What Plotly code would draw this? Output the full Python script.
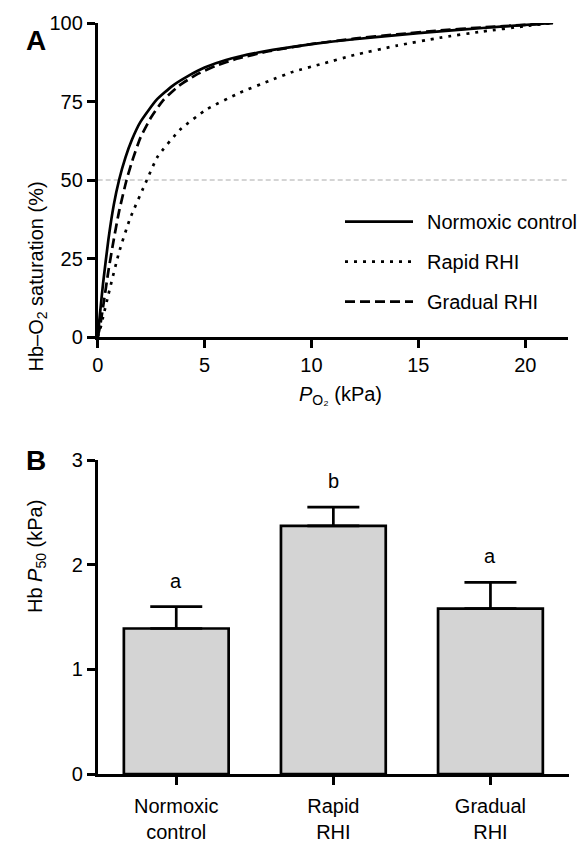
import plotly.graph_objects as go

# ---------------- Panel A data ----------------
po2_norm = [0, 0.1, 0.25, 0.5, 0.75, 1.0, 1.3, 1.6, 2.0, 2.75, 3.5, 4.2, 5.0, 6.0, 7.5, 9.2, 11.0, 13.0, 15.0, 17.0, 19.0, 21.3]
sat_norm = [0, 7, 17, 31, 42, 50, 57.2, 62.8, 68.5, 75.5, 80, 83, 85.8, 88.2, 90.6, 92.5, 94.1, 95.5, 96.8, 97.9, 98.9, 100]

po2_rapid = [0, 0.1, 0.25, 0.5, 1.0, 1.5, 2.3, 2.8, 3.85, 5.1, 6.65, 8.0, 9.15, 10.5, 12.0, 14.0, 16.0, 18.0, 20.0, 21.3]
sat_rapid = [0, 2, 6.3, 13.5, 27, 37.5, 50, 57.4, 66, 72.5, 77.8, 81.5, 84.5, 87, 89.8, 92.8, 95.3, 97.3, 99, 100]

po2_grad = [0, 0.1, 0.25, 0.5, 0.75, 1.0, 1.35, 1.65, 2.0, 2.5, 3.05, 3.8, 4.6, 5.5, 6.5, 8.0, 10.0, 12.0, 14.0, 16.0, 18.0, 20.0, 21.3]
sat_grad = [0, 3, 9.5, 21, 31, 40, 50, 56.8, 63.5, 70, 75.3, 80, 83.5, 86.3, 88.6, 91, 93.3, 95, 96.4, 97.6, 98.6, 99.4, 100]

series_names = ["Normoxic control", "Rapid RHI", "Gradual RHI"]
x_ticks_a = [0, 5, 10, 15, 20]
y_ticks_a = [0, 25, 50, 75, 100]

# ---------------- Panel B data ----------------
groups = ["Normoxic<br>control", "Rapid<br>RHI", "Gradual<br>RHI"]
p50_mean = [1.39, 2.37, 1.58]
p50_sem = [0.21, 0.18, 0.25]
sig_letters = ["a", "b", "a"]
y_ticks_b = [0, 1, 2, 3]

FONT = "Liberation Sans, Arial, sans-serif"
W, H = 584, 842
LW = 2.7

dashes = ["solid", "3px,6px", "10px,5px"]

fig = go.Figure()

for xs, ys, name, d in [(po2_norm, sat_norm, series_names[0], dashes[0]),
                        (po2_rapid, sat_rapid, series_names[1], dashes[1]),
                        (po2_grad, sat_grad, series_names[2], dashes[2])]:
    fig.add_trace(go.Scatter(x=xs, y=ys, mode="lines", name=name,
                             line=dict(color="black", width=LW, dash=d, shape="spline", smoothing=0.5),
                             xaxis="x", yaxis="y", showlegend=False))

fig.add_trace(go.Bar(x=list(range(len(groups))), y=p50_mean, width=0.667,
                     marker=dict(color="#d4d4d4", line=dict(color="black", width=LW)),
                     error_y=dict(type="data", symmetric=False, array=p50_sem,
                                  arrayminus=[0] * len(p50_sem), color="black",
                                  thickness=LW, width=26),
                     xaxis="x2", yaxis="y2", showlegend=False))

axis_common = dict(showline=True, linecolor="black", linewidth=LW, ticks="outside",
                   ticklen=8, tickwidth=LW, tickcolor="black", showgrid=False,
                   zeroline=False, automargin=False,
                   tickfont=dict(family=FONT, size=20, color="black"))

fig.update_layout(
    template="none",
    width=W, height=H, margin=dict(l=0, r=0, t=0, b=0, pad=0),
    paper_bgcolor="white", plot_bgcolor="white",
    font=dict(family=FONT, size=20, color="black"),
    xaxis=dict(domain=[97.7 / W, 568 / W], range=[0, 22], tickvals=x_ticks_a,
               anchor="y", **axis_common),
    yaxis=dict(domain=[(H - 337) / H, (H - 23) / H], range=[0, 100], tickvals=y_ticks_a,
               anchor="x", **axis_common),
    xaxis2=dict(domain=[97.7 / W, 569 / W], range=[-0.5, 2.5], tickvals=list(range(len(groups))),
                ticktext=groups, anchor="y2", ticklabelstandoff=4, **axis_common),
    yaxis2=dict(domain=[(H - 774) / H, (H - 460) / H], range=[0, 3], tickvals=y_ticks_b,
                anchor="x2", **axis_common),
)

# 50% reference line
fig.add_hline(y=50, line=dict(color="#aaaaaa", width=1, dash="5px,3px"), xref="x", yref="y", layer="below")

ann = []
# Significance letters
for i, (m, s, t) in enumerate(zip(p50_mean, p50_sem, sig_letters)):
    ann.append(dict(x=i, y=m + s, xref="x2", yref="y2", text=t, showarrow=False,
                    yshift=26, font=dict(family=FONT, size=20, color="black")))

# Axis titles
ann.append(dict(x=22 / W, y=(H - 180) / H, xref="paper", yref="paper", textangle=-90,
                text="Hb–O<sub>2</sub> saturation (%)", showarrow=False,
                font=dict(family=FONT, size=20, color="black")))
ann.append(dict(x=22 / W, y=(H - 615) / H, xref="paper", yref="paper", textangle=-90,
                text="Hb <i>P</i><sub>50</sub> (kPa)", showarrow=False,
                font=dict(family=FONT, size=20, color="black")))
ann.append(dict(x=340 / W, y=(H - 395) / H, xref="paper", yref="paper",
                text="<i>P</i><sub>O₂</sub> (kPa)", showarrow=False,
                font=dict(family=FONT, size=20, color="black")))

# Panel letters
ann.append(dict(x=24 / W, y=(H - 23) / H, xref="paper", yref="paper", text="<b>A</b>",
                showarrow=False, font=dict(family=FONT, size=28, color="black")))
ann.append(dict(x=24 / W, y=(H - 460) / H, xref="paper", yref="paper", text="<b>B</b>",
                showarrow=False, font=dict(family=FONT, size=28, color="black")))

# Legend (manual)
legend_rows = [221.7, 261.7, 301.7]
shapes = []
for name, d, yy in zip(series_names, dashes, legend_rows):
    shapes.append(dict(type="line", xref="paper", yref="paper", x0=345 / W, x1=413 / W,
                       y0=(H - yy) / H, y1=(H - yy) / H,
                       line=dict(color="black", width=LW, dash=d)))
    ann.append(dict(x=425 / W, y=(H - yy) / H, xref="paper", yref="paper", text=name,
                    showarrow=False, xanchor="left", yanchor="middle",
                    font=dict(family=FONT, size=20, color="black")))

fig.update_layout(annotations=ann)
for s in shapes:
    fig.add_shape(**s)

fig.write_html("out.html", config={"displayModeBar": False},
               post_script="document.body.style.margin='0';document.body.style.padding='0';")
